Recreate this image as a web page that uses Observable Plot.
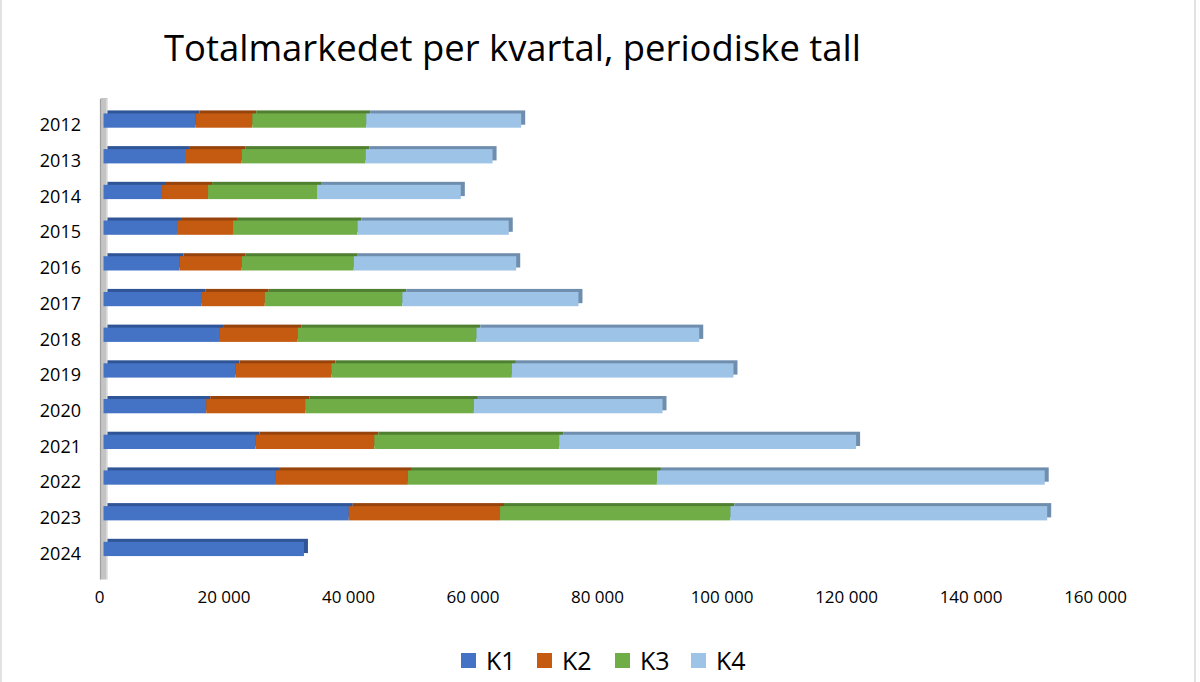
<!DOCTYPE html>
<html><head><meta charset="utf-8">
<script src="https://cdn.jsdelivr.net/npm/d3@7"></script>
<script src="https://cdn.jsdelivr.net/npm/@observablehq/plot@0.6"></script>
<style>
html,body{margin:0;padding:0;background:#fff;}
body{width:1200px;height:682px;position:relative;overflow:hidden;font-family:"Open Sans",sans-serif;}
#frame{position:absolute;left:0;top:0;width:1192px;height:682px;border-left:2px solid #e2e2e2;border-right:2px solid #e2e2e2;}
#title{position:absolute;left:164px;top:30px;font-size:36px;line-height:36px;color:#000;white-space:nowrap;transform-origin:0 0;}
#chart{position:absolute;left:0;top:90px;}
#legend{position:absolute;left:0;top:644px;width:1200px;height:32px;}
.li{position:absolute;top:0;height:32px;display:flex;align-items:center;font-size:25px;color:#000;}
.sw{width:15px;height:15px;margin-right:10px;}
</style></head>
<body>
<div id="frame"></div>
<div id="title">Totalmarkedet per kvartal, periodiske tall</div>
<div id="chart"></div>
<div id="legend"></div>
<script>
const years = ["2012","2013","2014","2015","2016","2017","2018","2019","2020","2021","2022","2023","2024"];
const quarters = ["K1","K2","K3","K4"];
const k1 = [14800,13100,9400,11800,12200,15700,18700,21200,16500,24400,27700,39400,32200];
const k2 = [9100,9100,7400,9000,10000,10200,12500,15400,15900,19100,21200,24300,null];
const k3 = [18300,19900,17500,20000,18000,22100,28700,29000,27100,29700,40000,37000,null];
const k4 = [24900,20400,23100,24300,26100,28300,35800,35600,30300,47700,62300,50900,null];
const xTicks = [0,20000,40000,60000,80000,100000,120000,140000,160000];

const frontColors = ["#4472C4","#C55A11","#70AD47","#9DC3E6"];
const topColors = ["#2F5597","#97430C","#4F7F31","#6F8DAD"];

const series = [k1,k2,k3,k4];
const data = [];
years.forEach((y,i)=>{
  quarters.forEach((q,j)=>{
    const v = series[j][i];
    if (v != null) data.push({year:y, quarter:q, value:v});
  });
});

const fmt = d => d3.format(",")(d).replace(/,/g, " ");

const chart = Plot.plot({
  width: 1200,
  height: 518,
  marginLeft: 103.5,
  marginRight: 100.5,
  marginTop: 2,
  marginBottom: 30.5,
  style: {fontFamily: '"Open Sans", sans-serif', background: "transparent"},
  x: {domain: [0,160000], axis: null},
  y: {domain: years, padding: 0.6, round: false, axis: null},
  color: {domain: [...quarters, ...quarters.map(q=>q+"t")], range: [...frontColors, ...topColors]},
  marks: [
    Plot.ruleX([0], {stroke: "#c4c4c4", strokeWidth: 7, dx: 0, insetTop: 6, insetBottom: -2}),
    Plot.ruleX([0], {stroke: "#9f9f9f", strokeWidth: 1.2, dx: -3.5, insetTop: 7, insetBottom: -2}),
    Plot.ruleX([0], {stroke: "#e6e6e6", strokeWidth: 1.2, dx: 3, insetTop: 7, insetBottom: -2}),
    Plot.barX(data, Plot.stackX({x: "value", y: "year", fill: d => d.quarter + "t", dx: 4, dy: -3})),
    Plot.barX(data, Plot.stackX({x: "value", y: "year", fill: "quarter"})),
    Plot.axisY({tickSize: 0, tickPadding: 23, fontSize: 18, dy: 4.5, label: null}),
    Plot.axisX({ticks: xTicks, tickSize: 0, tickPadding: 12.5, fontSize: 17, dx: -4.5, tickFormat: fmt, label: null})
  ]
});
document.getElementById("chart").appendChild(chart);
chart.querySelectorAll("text").forEach(t => t.setAttribute("fill", "#000"));

// title width fit
const title = document.getElementById("title");
const w = title.getBoundingClientRect().width;
title.style.transform = `scaleX(${(697 / w).toFixed(4)})`;

// legend
const legend = document.getElementById("legend");
const lx = [461, 537, 615, 691];
quarters.forEach((q,i)=>{
  const it = document.createElement("div");
  it.className = "li";
  it.style.left = lx[i] + "px";
  const sw = document.createElement("div");
  sw.className = "sw";
  sw.style.background = frontColors[i];
  it.appendChild(sw);
  const tx = document.createElement("span");
  tx.textContent = q;
  it.appendChild(tx);
  legend.appendChild(it);
});
</script>
</body></html>
